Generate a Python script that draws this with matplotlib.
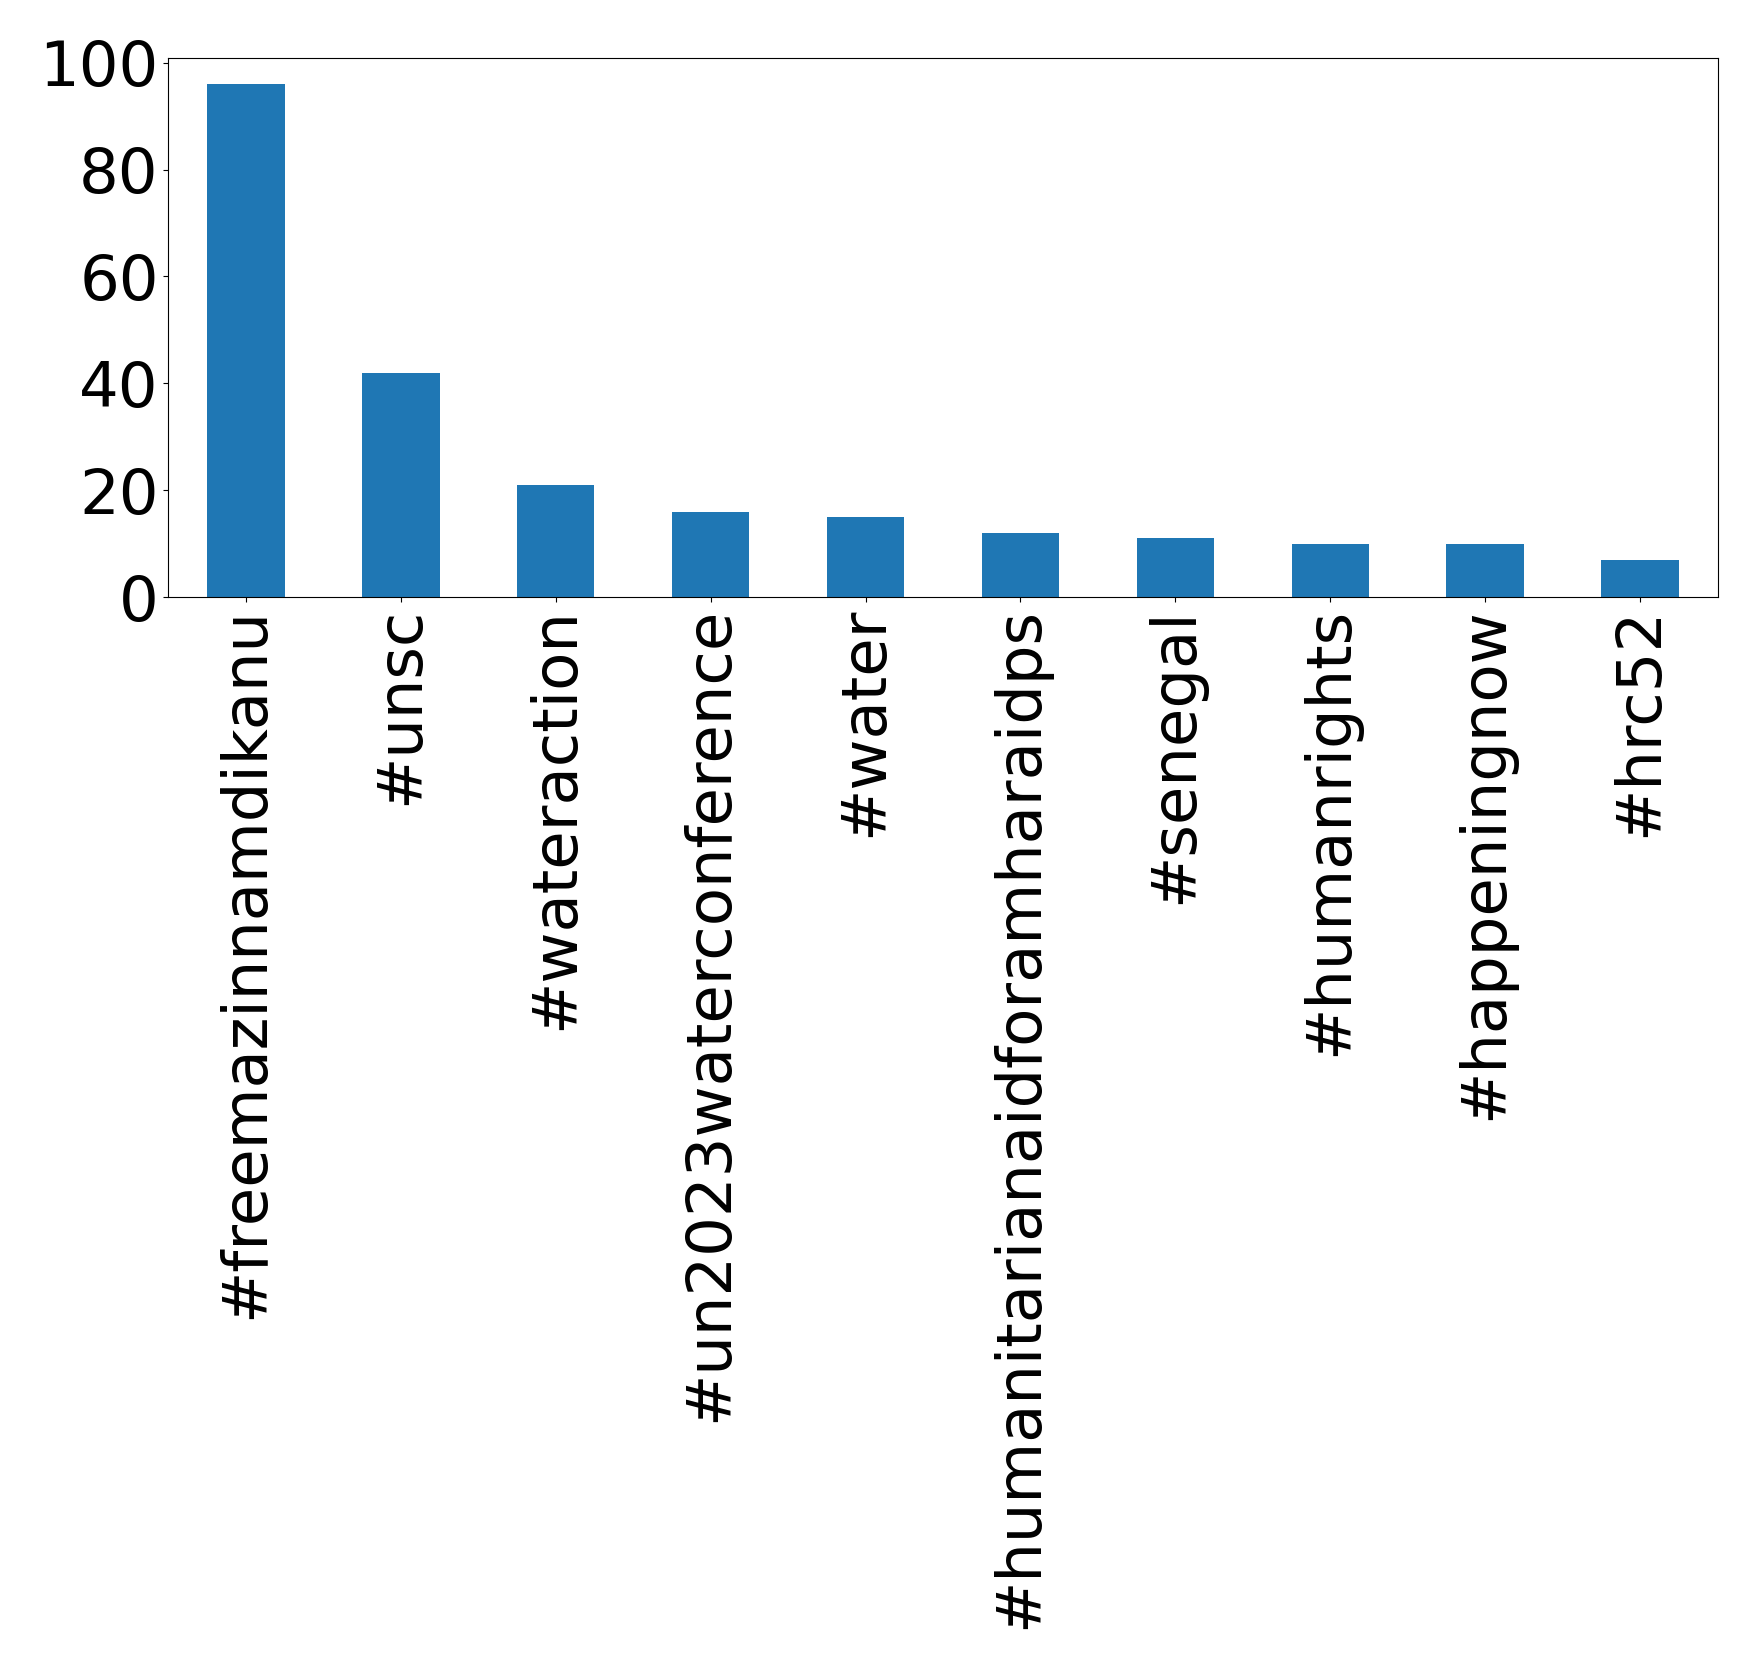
import matplotlib
matplotlib.use("Agg")
from matplotlib import pyplot as plt

hashtags = ["#freemazinnamdikanu", "#unsc", "#wateraction", "#un2023waterconference",
            "#water", "#humanitarianaidforamharaidps", "#senegal", "#humanrights",
            "#happeningnow", "#hrc52"]
counts = [96, 42, 21, 16, 15, 12, 11, 10, 10, 7]

fig = plt.figure(figsize=(17.58, 16.69), dpi=100)
ax = fig.add_axes([0.0958, 0.6422, 0.8812, 0.3228])
x = range(len(hashtags))
ax.bar(x, counts, width=0.5, color="#1f77b4")
ax.set_xlim(-0.5, len(hashtags) - 0.5)
ax.set_xticks(list(x))
ax.set_xticklabels(hashtags, rotation=90)
ax.set_yticks([0, 20, 40, 60, 80, 100])
ax.tick_params(labelsize=45)
fig.savefig("out.png")
